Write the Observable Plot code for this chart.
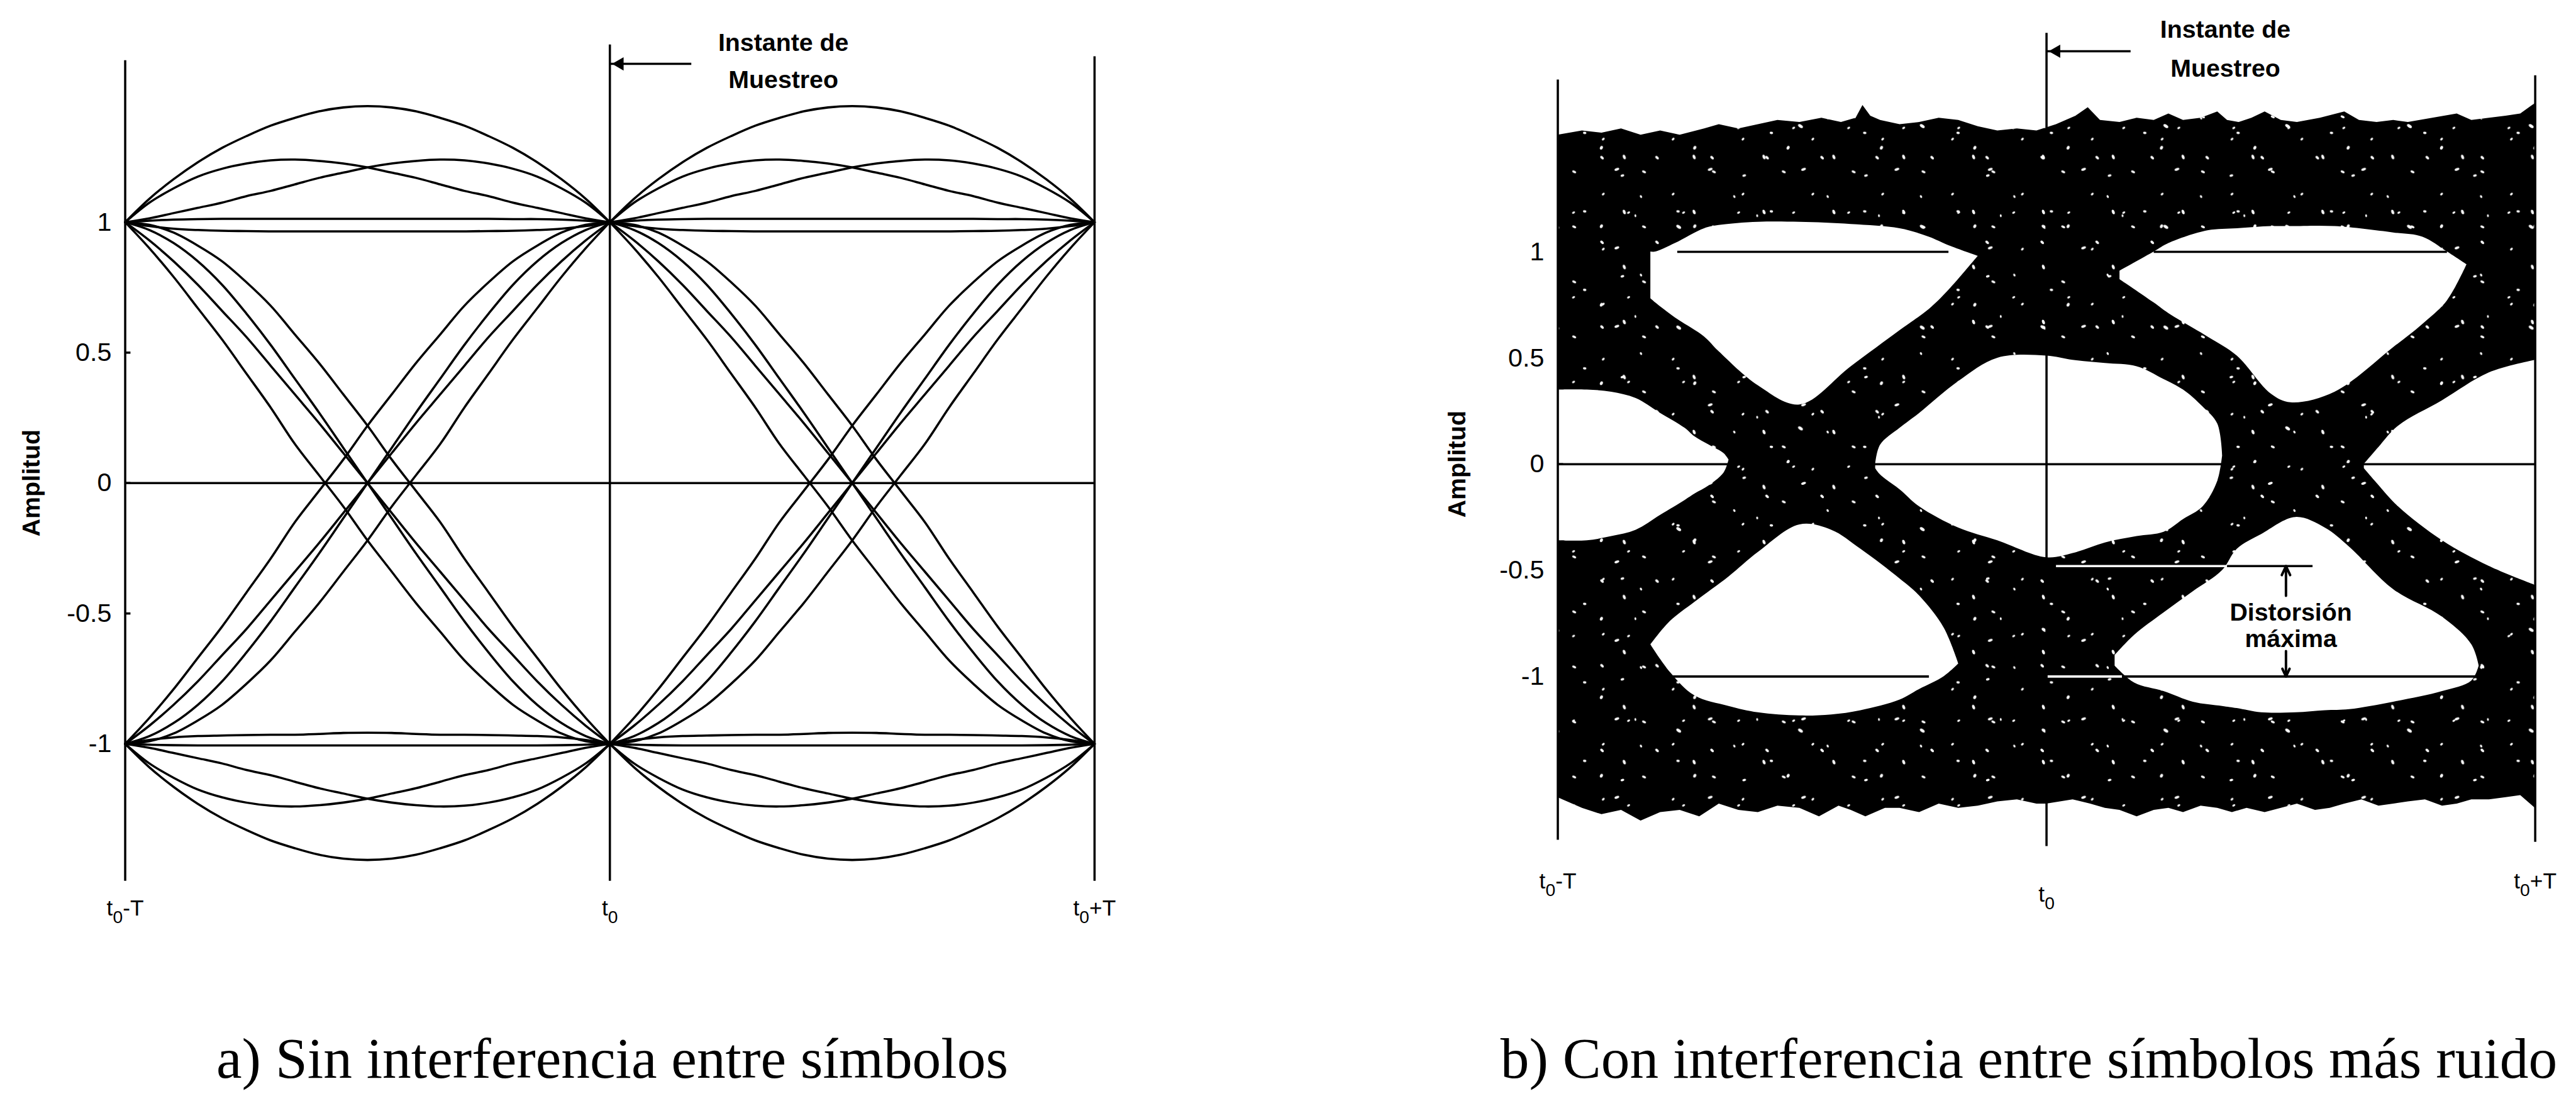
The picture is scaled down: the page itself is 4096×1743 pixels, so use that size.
<!DOCTYPE html>
<html>
<head>
<meta charset="utf-8">
<script src="https://cdn.jsdelivr.net/npm/d3@7"></script>
<script src="https://cdn.jsdelivr.net/npm/@observablehq/plot@0.6"></script>
<style>
  html, body { margin: 0; padding: 0; background: #fff; }
  #fig { position: relative; width: 4096px; height: 1743px; overflow: hidden; background: #fff; }
  .panel { position: absolute; top: 0; }
  .panel svg { display: block; max-width: none !important; overflow: visible; }
  .caption { position: absolute; font-family: "Liberation Serif", "Times New Roman", serif; white-space: nowrap; color: #000; line-height: 1; }
</style>
</head>
<body>
<div id="fig">
  <div class="panel" id="panelA"></div>
  <div class="panel" id="panelB"></div>
  <div class="caption" id="capA">a) Sin interferencia entre símbolos</div>
  <div class="caption" id="capB">b) Con interferencia entre símbolos más ruido</div>
</div>
<script>
// Everything is laid out on a 4164 x 1772 design grid and scaled down to the window.
const K = 0.983;
const px = v => v * K;

// ---------------- shared axis text ----------------
const yTicks = [1, 0.5, 0, -0.5, -1];
const yTickText = ["1", "0.5", "0", "-0.5", "-1"];
const timeTicks = [-1, 0, 1];
const timeText = ["t0-T", "t0", "t0+T"];
const yLabel = new Map(yTicks.map((t, i) => [t, yTickText[i]]));
const timeLabel = new Map(timeTicks.map((t, i) => [t, timeText[i]]));

// ---------------- panel a: eye pattern without ISI ----------------
// position inside one symbol period (fraction of T)
const phase = [0, .05, .1, .15, .2, .25, .3, .35, .4, .45, .5, .55, .6, .65, .7, .75, .8, .85, .9, .95, 1];

// traces that start and end at +1
const highArc   = [1, 1.09, 1.165, 1.23, 1.285, 1.33, 1.37, 1.40, 1.425, 1.44, 1.445, 1.44, 1.425, 1.40, 1.37, 1.33, 1.285, 1.23, 1.165, 1.09, 1];
const highEarly = [1, 1.075, 1.13, 1.175, 1.205, 1.225, 1.237, 1.24, 1.235, 1.225, 1.21, 1.19, 1.17, 1.145, 1.12, 1.10, 1.075, 1.055, 1.035, 1.015, 1];
const highLate  = [1, 1.015, 1.035, 1.055, 1.075, 1.10, 1.12, 1.145, 1.17, 1.19, 1.21, 1.225, 1.235, 1.24, 1.237, 1.225, 1.205, 1.175, 1.13, 1.075, 1];
const highFlat  = [1, 1.006, 1.01, 1.012, 1.013, 1.013, 1.013, 1.013, 1.013, 1.013, 1.013, 1.013, 1.013, 1.013, 1.013, 1.013, 1.012, 1.012, 1.01, 1.006, 1];
const highDip   = [1, .985, .975, .97, .967, .966, .965, .965, .965, .965, .965, .965, .965, .965, .965, .966, .967, .97, .975, .985, 1];

// transitions from +1 to -1
const fallEarly = [1, .90, .79, .67, .55, .42, .29, .15, .03, -.09, -.22, -.34, -.46, -.57, -.68, -.77, -.85, -.91, -.96, -.99, -1];
const fallMidA  = [1, .93, .85, .76, .66, .56, .45, .34, .23, .115, 0, -.115, -.23, -.34, -.45, -.56, -.66, -.76, -.85, -.93, -1];
const fallMidB  = [1, .97, .92, .85, .76, .65, .53, .40, .27, .135, 0, -.135, -.27, -.40, -.53, -.65, -.76, -.85, -.92, -.97, -1];
const fallLate  = [1, .99, .96, .91, .85, .77, .68, .57, .46, .34, .22, .09, -.03, -.15, -.29, -.42, -.55, -.67, -.79, -.90, -1];

// transitions from -1 to +1
const riseEarly = [-1, -.90, -.79, -.67, -.55, -.42, -.29, -.15, -.03, .09, .22, .34, .46, .57, .68, .77, .85, .91, .96, .99, 1];
const riseMidA  = [-1, -.93, -.85, -.76, -.66, -.56, -.45, -.34, -.23, -.115, 0, .115, .23, .34, .45, .56, .66, .76, .85, .93, 1];
const riseMidB  = [-1, -.97, -.92, -.85, -.76, -.65, -.53, -.40, -.27, -.135, 0, .135, .27, .40, .53, .65, .76, .85, .92, .97, 1];
const riseLate  = [-1, -.99, -.96, -.91, -.85, -.77, -.68, -.57, -.46, -.34, -.22, -.09, .03, .15, .29, .42, .55, .67, .79, .90, 1];

// traces that start and end at -1
const lowArc   = [-1, -1.09, -1.165, -1.23, -1.285, -1.33, -1.37, -1.40, -1.425, -1.44, -1.445, -1.44, -1.425, -1.40, -1.37, -1.33, -1.285, -1.23, -1.165, -1.09, -1];
const lowEarly = [-1, -1.075, -1.13, -1.175, -1.205, -1.225, -1.237, -1.24, -1.235, -1.225, -1.21, -1.19, -1.17, -1.145, -1.12, -1.10, -1.075, -1.055, -1.035, -1.015, -1];
const lowLate  = [-1, -1.015, -1.035, -1.055, -1.075, -1.10, -1.12, -1.145, -1.17, -1.19, -1.21, -1.225, -1.235, -1.24, -1.237, -1.225, -1.205, -1.175, -1.13, -1.075, -1];
const lowFlat  = [-1, -1.003, -1.005, -1.006, -1.006, -1.006, -1.006, -1.006, -1.006, -1.006, -1.006, -1.006, -1.006, -1.006, -1.006, -1.006, -1.006, -1.006, -1.005, -1.003, -1];
const lowDip   = [-1, -.985, -.975, -.97, -.968, -.966, -.965, -.965, -.962, -.958, -.957, -.958, -.962, -.965, -.965, -.966, -.968, -.97, -.975, -.985, -1];

// the same set of traces repeats in both symbol periods
const periodStart = [-1, 0];
const tracesA = [
  ["highArc", highArc], ["highEarly", highEarly], ["highLate", highLate], ["highFlat", highFlat], ["highDip", highDip],
  ["fallEarly", fallEarly], ["fallMidA", fallMidA], ["fallMidB", fallMidB], ["fallLate", fallLate],
  ["riseEarly", riseEarly], ["riseMidA", riseMidA], ["riseMidB", riseMidB], ["riseLate", riseLate],
  ["lowArc", lowArc], ["lowEarly", lowEarly], ["lowLate", lowLate], ["lowFlat", lowFlat], ["lowDip", lowDip]
];
const rowsA = periodStart.flatMap(p => tracesA.flatMap(([name, ys]) =>
  phase.map((u, i) => ({x: p + u, y: ys[i], id: name + p}))));

// vertical reference lines (t0-T, t0, t0+T) and their extents
const lineTopA = [1.62, 1.68, 1.635];
const lineBottomA = [-1.526, -1.526, -1.526];
const vlinesA = timeTicks.map((x, i) => ({x, top: lineTopA[i], bottom: lineBottomA[i]}));
const zeroLineA = [{y: 0, x1: -1, x2: 1}];

// "sampling instant" call-out
const instantArrowA = [{x1: 0.168, x2: 0.0, y: 1.607}];
const instantNoteA = [{x: 0.358, y: 1.63, text: "Instante de\nMuestreo"}];

// ---------------- panel b: eye pattern with ISI plus noise ----------------
// upper and lower outline of the noisy band
const crestX = [-1, -.95, -.91, -.87, -.83, -.79, -.75, -.70, -.67, -.63, -.59, -.55, -.505, -.46, -.42, -.39, -.376, -.36, -.34, -.30, -.26, -.22, -.18, -.14, -.10, -.06, -.02, .02, .06, .085, .11, .15, .185, .22, .25, .28, .316, .35, .37, .394, .42, .447, .48, .513, .56, .61, .64, .676, .71, .74, .79, .84, .87, .906, .94, .97, 1];
const crestY = [1.55, 1.57, 1.56, 1.58, 1.55, 1.57, 1.55, 1.58, 1.60, 1.58, 1.60, 1.62, 1.61, 1.63, 1.61, 1.63, 1.69, 1.64, 1.62, 1.60, 1.61, 1.63, 1.62, 1.59, 1.57, 1.58, 1.57, 1.60, 1.64, 1.68, 1.62, 1.61, 1.63, 1.62, 1.65, 1.62, 1.63, 1.66, 1.62, 1.61, 1.63, 1.66, 1.62, 1.61, 1.63, 1.66, 1.62, 1.61, 1.62, 1.61, 1.63, 1.65, 1.62, 1.63, 1.64, 1.65, 1.70];
const troughX = [-1, -.95, -.91, -.87, -.83, -.79, -.75, -.71, -.67, -.63, -.59, -.55, -.505, -.465, -.425, -.40, -.37, -.33, -.30, -.26, -.22, -.18, -.14, -.10, -.06, -.02, 0, .054, .09, .12, .15, .185, .22, .25, .28, .316, .35, .38, .41, .447, .48, .513, .55, .58, .61, .645, .68, .71, .74, .775, .81, .84, .87, .906, .94, .97, 1];
const troughY = [-1.57, -1.62, -1.65, -1.63, -1.68, -1.64, -1.63, -1.66, -1.60, -1.63, -1.64, -1.61, -1.62, -1.66, -1.61, -1.63, -1.66, -1.62, -1.62, -1.64, -1.60, -1.62, -1.61, -1.59, -1.58, -1.60, -1.60, -1.58, -1.60, -1.62, -1.63, -1.66, -1.63, -1.62, -1.64, -1.61, -1.62, -1.64, -1.62, -1.64, -1.62, -1.60, -1.63, -1.62, -1.60, -1.58, -1.61, -1.60, -1.59, -1.58, -1.61, -1.60, -1.58, -1.58, -1.57, -1.56, -1.62];

// open eyes (x, upper edge, lower edge)
const eyeUL_x  = [-.81, -.80, -.76, -.70, -.67, -.59, -.505, -.40, -.30, -.24, -.20, -.14];
const eyeUL_hi = [1.0, 1.0, 1.04, 1.11, 1.125, 1.14, 1.14, 1.13, 1.11, 1.07, 1.03, .98];
const eyeUL_lo = [.78, .76, .69, .60, .53, .37, .28, .46, .63, .73, .82, .98];

const eyeUR_x  = [.15, .22, .25, .33, .39, .46, .50, .59, .71, .77, .82, .86];
const eyeUR_hi = [.91, 1.0, 1.04, 1.10, 1.11, 1.12, 1.12, 1.12, 1.09, 1.07, 1.0, .94];
const eyeUR_lo = [.87, .76, .71, .60, .51, .33, .29, .34, .55, .66, .77, .94];

const eyeLL_x  = [-.81, -.77, -.72, -.65, -.59, -.505, -.44, -.38, -.30, -.26, -.21, -.18];
const eyeLL_hi = [-.85, -.74, -.65, -.53, -.415, -.285, -.31, -.40, -.54, -.62, -.77, -.94];
const eyeLL_lo = [-.85, -.98, -1.09, -1.14, -1.17, -1.185, -1.18, -1.16, -1.11, -1.06, -1.0, -.94];

const eyeLR_x  = [.14, .18, .24, .30, .36, .39, .44, .51, .57, .62, .71, .81, .87, .885];
const eyeLR_hi = [-.90, -.805, -.70, -.60, -.50, -.40, -.33, -.25, -.30, -.39, -.59, -.72, -.85, -.95];
const eyeLR_lo = [-.95, -1.03, -1.07, -1.12, -1.14, -1.15, -1.17, -1.17, -1.16, -1.155, -1.12, -1.07, -1.02, -.95];

const eyeML_x  = [-1, -.94, -.89, -.84, -.79, -.74, -.72, -.69, -.66, -.65];
const eyeML_hi = [.35, .35, .34, .31, .24, .17, .13, .09, .05, .02];
const eyeML_lo = [-.36, -.36, -.34, -.31, -.24, -.17, -.14, -.10, -.04, .02];

const eyeMC_x  = [-.35, -.34, -.30, -.26, -.18, -.10, 0, .054, .12, .185, .24, .28, .32, .35, .36];
const eyeMC_hi = [0, .09, .17, .24, .39, .50, .51, .49, .475, .46, .40, .35, .27, .19, .04];
const eyeMC_lo = [-.02, -.05, -.12, -.20, -.30, -.36, -.44, -.42, -.37, -.34, -.32, -.26, -.20, -.08, .04];

const eyeMR_x  = [.65, .68, .72, .81, .905, 1];
const eyeMR_hi = [0, .08, .18, .30, .43, .49];
const eyeMR_lo = [-.02, -.10, -.20, -.36, -.48, -.57];

const eyes = [
  ["UL", eyeUL_x, eyeUL_hi, eyeUL_lo], ["UR", eyeUR_x, eyeUR_hi, eyeUR_lo],
  ["LL", eyeLL_x, eyeLL_hi, eyeLL_lo], ["LR", eyeLR_x, eyeLR_hi, eyeLR_lo],
  ["ML", eyeML_x, eyeML_hi, eyeML_lo], ["MC", eyeMC_x, eyeMC_hi, eyeMC_lo],
  ["MR", eyeMR_x, eyeMR_hi, eyeMR_lo]
];
const eyeRows = eyes.flatMap(([eye, xs, hi, lo]) => xs.map((x, i) => ({eye, x, hi: hi[i], lo: lo[i]})));
const crestRows = crestX.map((x, i) => ({x, y: crestY[i]}));
const troughRows = troughX.map((x, i) => ({x, y: troughY[i]}));

// decision levels drawn across the eyes
const levelLinesB = [
  {y: 0, x1: -1, x2: 1},
  {y: 1, x1: -.755, x2: -.20},
  {y: 1, x1: .22, x2: .82},
  {y: -1, x1: -.77, x2: -.24}
];
// worst-case distortion markers; white where they cross the dark band
const distortionLines = [
  {y: -.48, x1: .02, x2: .37, tone: "white"},
  {y: -.48, x1: .37, x2: .545, tone: "black"},
  {y: -1, x1: 0, x2: .155, tone: "white"},
  {y: -1, x1: .155, x2: .88, tone: "black"}
];
const distortionArrows = [
  {x: .49, from: -.62, to: -.48},
  {x: .49, from: -.88, to: -1.0}
];
const distortionNote = [{x: .50, y: -.76, text: "Distorsión\nmáxima"}];

const lineTopB = [1.81, 2.03, 1.83];
const lineBottomB = [-1.77, -1.80, -1.78];
const vlinesB = timeTicks.map((x, i) => ({x, top: lineTopB[i], bottom: lineBottomB[i]}));
const instantArrowB = [{x1: 0.172, x2: 0.0, y: 1.945}];
const instantNoteB = [{x: 0.366, y: 1.975, text: "Instante de\nMuestreo"}];

// speckle texture of the noisy band: [tile id, tile width, tile height, specks (cx, cy, rx, ry, angle)]
const speckleTiles = [
  ["speckA", 113, 89, [[14, 11, 3.4, 1.8, 25], [61, 47, 2.6, 1.7, -40], [95, 76, 3.8, 2.2, 70]]],
  ["speckB", 151, 127, [[30, 88, 2.8, 1.9, 10], [82, 20, 4.0, 2.0, -20], [121, 64, 2.4, 1.6, 55], [57, 112, 3.2, 2.3, -65]]],
  ["speckC", 197, 163, [[44, 41, 4.4, 2.4, 35], [150, 121, 3.0, 1.8, -15], [171, 23, 2.2, 1.5, 80]]],
  ["speckD", 89, 137, [[20, 70, 2.6, 1.6, -30], [66, 118, 3.4, 2.0, 45]]]
];

// ---------------- shared styling ----------------
const SANS = "'Liberation Sans', Arial, Helvetica, sans-serif";
const LW = px(3.6);

function axisMarks(timePaddings) {
  return [
    Plot.axisY(yTicks, {anchor: "left", tickSize: -px(9), tickPadding: px(31), strokeWidth: LW,
      tickFormat: d => yLabel.get(d), fontSize: px(42), label: null}),
    ...timePaddings.map(([ticks, pad]) => Plot.axisX(ticks, {anchor: "bottom", tickSize: 0, tickPadding: px(pad),
      tickFormat: d => timeLabel.get(d), fontSize: px(36), label: null})),
    Plot.text(["Amplitud"], {frameAnchor: "left", rotate: -90, textAnchor: "middle", fontWeight: "bold", fontSize: px(40)})
  ];
}

function calloutMarks(arrow, note, lineHeight) {
  return [
    Plot.link(arrow, {x1: "x1", x2: "x2", y1: "y", y2: "y", strokeWidth: LW}),
    Plot.dot(arrow, {x: "x2", y: "y", symbol: "triangle", rotate: -90, r: px(8), fill: "black", stroke: "none", dx: px(16)}),
    Plot.text(note, {x: "x", y: "y", text: "text", fontWeight: "bold", fontSize: px(40), lineHeight})
  ];
}

// subscripted time labels: t0-T -> t + subscript 0 + -T
function subscriptTimes(svg, size) {
  d3.select(svg).selectAll('g[aria-label="x-axis tick label"] text').each(function () {
    const label = this.textContent;
    const rest = label.slice(2);
    const t = d3.select(this);
    t.text(null);
    t.append("tspan").text("t");
    t.append("tspan").attr("dy", px(size * 0.34)).attr("font-size", px(size * 0.8)).text("0");
    if (rest) t.append("tspan").attr("dy", -px(size * 0.34)).text(rest);
  });
}

// move the rotated amplitude title away from the axis
function placeAxisTitle(svg, offset) {
  d3.select(svg).selectAll("text").filter(function () { return this.textContent === "Amplitud"; })
    .attr("dy", -px(offset));
}

function addSpeckleDefs(svg) {
  const defs = d3.select(svg).insert("defs", ":first-child");
  for (const [id, w, h, specks] of speckleTiles) {
    const p = defs.append("pattern").attr("id", id).attr("patternUnits", "userSpaceOnUse")
      .attr("width", px(w)).attr("height", px(h));
    for (const [cx, cy, rx, ry, a] of specks) {
      p.append("ellipse").attr("cx", px(cx)).attr("cy", px(cy)).attr("rx", px(rx)).attr("ry", px(ry))
        .attr("transform", `rotate(${a} ${px(cx)} ${px(cy)})`).attr("fill", "white");
    }
  }
}

// ---------------- panel a ----------------
const plotA = Plot.plot({
  width: px(2080), height: px(1560),
  marginLeft: px(202), marginRight: px(310), marginTop: px(359), marginBottom: px(357),
  x: {domain: [-1, 1], axis: null},
  y: {domain: [-1, 1], axis: null},
  style: {fontFamily: SANS, background: "transparent", overflow: "visible", color: "black"},
  marks: [
    Plot.line(rowsA, {x: "x", y: "y", z: "id", curve: "catmull-rom", stroke: "black", strokeWidth: LW}),
    Plot.ruleY(zeroLineA, {y: "y", x1: "x1", x2: "x2", stroke: "black", strokeWidth: LW}),
    Plot.ruleX(vlinesA, {x: "x", y1: "bottom", y2: "top", stroke: "black", strokeWidth: LW}),
    ...calloutMarks(instantArrowA, instantNoteA, 1.5),
    ...axisMarks([[timeTicks, 252]])
  ]
});
subscriptTimes(plotA, 36);
placeAxisTitle(plotA, 151);
document.getElementById("panelA").appendChild(plotA);

// ---------------- panel b ----------------
const bandFill = speckleTiles.map(([id]) => `url(#${id})`);
const plotB = Plot.plot({
  width: px(2084), height: px(1560),
  marginLeft: px(439), marginRight: px(64), marginTop: px(407), marginBottom: px(466),
  x: {domain: [-1, 1], axis: null},
  y: {domain: [-1, 1], axis: null},
  style: {fontFamily: SANS, background: "transparent", overflow: "visible", color: "black"},
  marks: [
    Plot.areaY(crestRows, {x: "x", y1: 0, y2: "y", fill: "black"}),
    Plot.areaY(troughRows, {x: "x", y1: 0, y2: "y", fill: "black"}),
    ...bandFill.flatMap(fill => [
      Plot.areaY(crestRows, {x: "x", y1: 0, y2: "y", fill}),
      Plot.areaY(troughRows, {x: "x", y1: 0, y2: "y", fill})
    ]),
    Plot.areaY(eyeRows, {x: "x", y1: "lo", y2: "hi", z: "eye", fill: "white", curve: "catmull-rom"}),
    Plot.ruleY(levelLinesB, {y: "y", x1: "x1", x2: "x2", stroke: "black", strokeWidth: LW}),
    Plot.ruleY(distortionLines.filter(d => d.tone === "white"), {y: "y", x1: "x1", x2: "x2", stroke: "white", strokeWidth: LW}),
    Plot.ruleY(distortionLines.filter(d => d.tone === "black"), {y: "y", x1: "x1", x2: "x2", stroke: "black", strokeWidth: LW}),
    Plot.ruleX(vlinesB, {x: "x", y1: "bottom", y2: "top", stroke: "black", strokeWidth: LW}),
    Plot.arrow(distortionArrows, {x1: "x", x2: "x", y1: "from", y2: "to", strokeWidth: px(4), headLength: px(18), headAngle: 50}),
    Plot.text(distortionNote, {x: "x", y: "y", text: "text", fontWeight: "bold", fontSize: px(40), lineHeight: 1.05}),
    ...calloutMarks(instantArrowB, instantNoteB, 1.58),
    ...axisMarks([[[-1, 1], 317], [[0], 339]])
  ]
});
addSpeckleDefs(plotB);
subscriptTimes(plotB, 36);
placeAxisTitle(plotB, 162);
document.getElementById("panelB").appendChild(plotB);

// panel placement
document.getElementById("panelA").style.left = "0px";
document.getElementById("panelB").style.left = px(2080) + "px";

// captions below each panel (baseline near y = 1744 on the design grid)
const capSize = 93;
for (const [id, left] of [["capA", 350], ["capB", 2427]]) {
  const el = document.getElementById(id);
  el.style.fontSize = px(capSize) + "px";
  el.style.left = px(left) + "px";
  el.style.top = px(1744 - 0.84 * capSize) + "px";
}
</script>
</body>
</html>
